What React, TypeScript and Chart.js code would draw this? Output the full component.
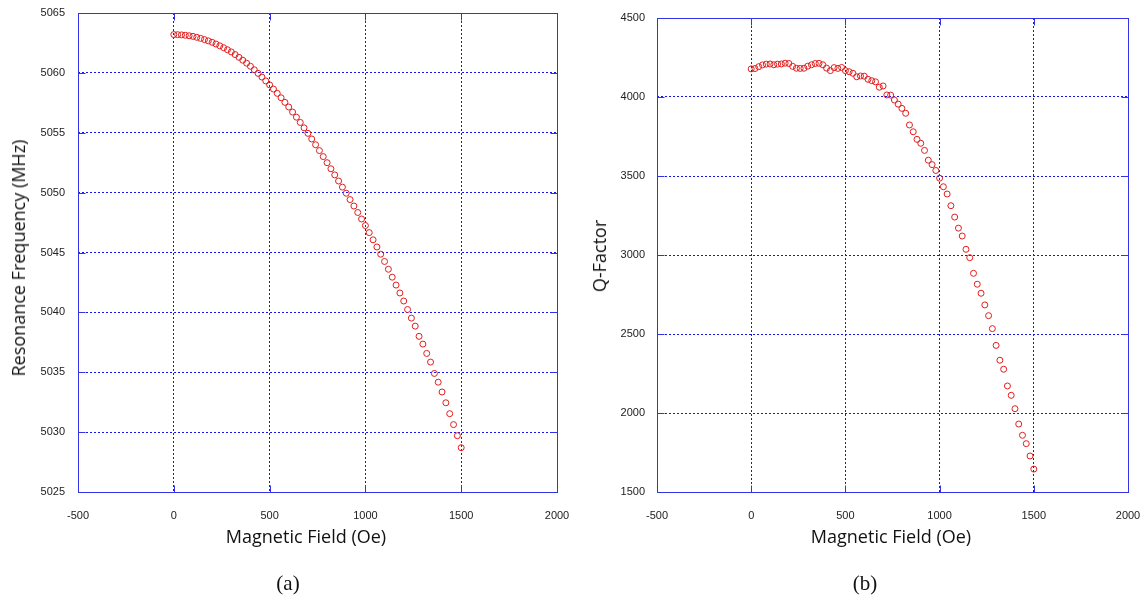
import React, { useEffect, useRef } from "react";
import { Chart, registerables } from "chart.js";

Chart.register(...registerables);

// ---- Data ----
const FIELD_OE = [
  0, 20, 40, 60, 80, 100, 120, 140, 160, 180, 200, 220, 240, 260, 280, 300, 320, 340, 360, 380,
  400, 420, 440, 460, 480, 500, 520, 540, 560, 580, 600, 620, 640, 660, 680, 700, 720, 740, 760, 780,
  800, 820, 840, 860, 880, 900, 920, 940, 960, 980, 1000, 1020, 1040, 1060, 1080, 1100, 1120, 1140, 1160, 1180,
  1200, 1220, 1240, 1260, 1280, 1300, 1320, 1340, 1360, 1380, 1400, 1420, 1440, 1460, 1480, 1500,
];

const RESONANCE_FREQ_MHZ = [
  5063.2, 5063.19, 5063.17, 5063.14, 5063.1, 5063.05, 5062.97, 5062.88, 5062.78, 5062.67,
  5062.55, 5062.41, 5062.26, 5062.1, 5061.93, 5061.75, 5061.53, 5061.3, 5061.06, 5060.81,
  5060.55, 5060.26, 5059.96, 5059.65, 5059.33, 5059.0, 5058.65, 5058.29, 5057.92, 5057.54,
  5057.15, 5056.73, 5056.3, 5055.86, 5055.41, 5054.95, 5054.48, 5054.0, 5053.51, 5053.01,
  5052.5, 5051.99, 5051.48, 5050.97, 5050.46, 5049.95, 5049.42, 5048.88, 5048.34, 5047.8,
  5047.25, 5046.66, 5046.06, 5045.46, 5044.86, 5044.25, 5043.6, 5042.94, 5042.28, 5041.62,
  5040.95, 5040.24, 5039.52, 5038.85, 5038.0, 5037.35, 5036.57, 5035.85, 5034.9, 5034.17,
  5033.35, 5032.45, 5031.54, 5030.63, 5029.7, 5028.7,
];

const Q_FACTOR = [
  4178, 4180, 4192, 4203, 4208, 4209, 4204, 4208, 4209, 4214,
  4212, 4194, 4182, 4181, 4182, 4195, 4204, 4212, 4213, 4204,
  4183, 4167, 4186, 4181, 4187, 4167, 4160, 4150, 4128, 4133,
  4132, 4112, 4103, 4096, 4062, 4070, 4013, 4012, 3981, 3955,
  3928, 3897, 3823, 3780, 3732, 3707, 3662, 3600, 3572, 3535,
  3486, 3432, 3386, 3312, 3240, 3170, 3120, 3036, 2983, 2884,
  2815, 2758, 2684, 2616, 2534, 2428, 2334, 2277, 2171, 2112,
  2027, 1930, 1859, 1806, 1728, 1645,
];

const FIELD_TICKS = [-500, 0, 500, 1000, 1500, 2000];
const FREQ_TICKS = [5025, 5030, 5035, 5040, 5045, 5050, 5055, 5060, 5065];
const Q_TICKS = [1500, 2000, 2500, 3000, 3500, 4000, 4500];

const X_TITLE = "Magnetic Field (Oe)";
const FREQ_TITLE = "Resonance Frequency (MHz)";
const Q_TITLE = "Q-Factor";

// ---- Styles ----
const AXIS_BLUE = "rgb(50,50,230)";
const GRID_BLUE = "rgb(20,20,245)";
const POINT_RED = "rgb(225,30,30)";
const TICK_COLOR = "#222";
const TICK_FONT = { family: "'Liberation Sans', Arial, sans-serif", size: 11 };
const TITLE_FONT = "'Open Sans', 'Noto Sans', sans-serif";

const framePlugin = {
  id: "frameBox",
  afterDraw(chart: any) {
    const { ctx, chartArea: a, scales } = chart;
    const l = Math.round(a.left) + 0.5;
    const r = Math.round(a.right) + 0.5;
    const t = Math.round(a.top) + 0.5;
    const b = Math.round(a.bottom) + 0.5;
    ctx.save();
    ctx.setLineDash([]);
    ctx.strokeStyle = AXIS_BLUE;
    ctx.lineWidth = 1;
    ctx.strokeRect(l, t, r - l, b - t);
    const len = 7;
    ctx.beginPath();
    for (const tk of scales.x.ticks) {
      const px = Math.round(scales.x.getPixelForValue(tk.value)) + 0.5;
      ctx.moveTo(px, b);
      ctx.lineTo(px, b - len);
      ctx.moveTo(px, t);
      ctx.lineTo(px, t + len);
    }
    for (const tk of scales.y.ticks) {
      const py = Math.round(scales.y.getPixelForValue(tk.value)) + 0.5;
      ctx.moveTo(l, py);
      ctx.lineTo(l + len, py);
      ctx.moveTo(r, py);
      ctx.lineTo(r - len, py);
    }
    ctx.stroke();
    ctx.restore();
  },
};

type PanelSpec = {
  values: number[];
  yTicks: number[];
  padLeft: number;
  padTop: number;
  padRight: number;
  yAxisWidth: number;
  yTickPad: number;
};

function makeConfig(p: PanelSpec): any {
  return {
    type: "scatter",
    data: {
      datasets: [
        {
          data: FIELD_OE.map((x, i) => ({ x, y: p.values[i] })),
          borderColor: POINT_RED,
          backgroundColor: "rgba(0,0,0,0)",
          pointRadius: 3,
          pointHoverRadius: 3,
          pointBorderWidth: 1,
          showLine: false,
        },
      ],
    },
    options: {
      animation: false,
      responsive: false,
      events: [],
      layout: { padding: { left: p.padLeft, top: p.padTop, right: p.padRight, bottom: 0 } },
      plugins: { legend: { display: false }, tooltip: { enabled: false } },
      scales: {
        x: {
          type: "linear",
          min: FIELD_TICKS[0],
          max: FIELD_TICKS[FIELD_TICKS.length - 1],
          afterBuildTicks: (s: any) => {
            s.ticks = FIELD_TICKS.map((value) => ({ value }));
          },
          afterFit: (s: any) => {
            s.height = 54;
            s.paddingLeft = 0;
            s.paddingRight = 0;
          },
          grid: { color: GRID_BLUE, lineWidth: 1, drawTicks: false },
          border: { display: false, dash: [2, 2] },
          ticks: {
            padding: 17,
            color: TICK_COLOR,
            font: TICK_FONT,
            maxRotation: 0,
            autoSkip: false,
            callback: (v: any) => String(v),
          },
        },
        y: {
          type: "linear",
          min: p.yTicks[0],
          max: p.yTicks[p.yTicks.length - 1],
          afterBuildTicks: (s: any) => {
            s.ticks = p.yTicks.map((value) => ({ value }));
          },
          afterFit: (s: any) => {
            s.width = p.yAxisWidth;
            s.paddingTop = 0;
            s.paddingBottom = 0;
          },
          grid: { color: GRID_BLUE, lineWidth: 1, drawTicks: false },
          border: { display: false, dash: [2, 2] },
          ticks: {
            padding: p.yTickPad,
            color: TICK_COLOR,
            font: TICK_FONT,
            autoSkip: false,
            callback: (v: any) => String(v),
          },
        },
      },
    },
    plugins: [framePlugin],
  };
}

function Panel({ spec, left }: { spec: PanelSpec; left: number }) {
  const ref = useRef<HTMLCanvasElement>(null);
  useEffect(() => {
    const chart = new Chart(ref.current as HTMLCanvasElement, makeConfig(spec));
    return () => chart.destroy();
  }, []);
  return (
    <canvas
      ref={ref}
      width={571}
      height={546}
      style={{ position: "absolute", left, top: 0, width: 571, height: 546 }}
    />
  );
}

const textBase: React.CSSProperties = {
  position: "absolute",
  whiteSpace: "nowrap",
  color: "#111",
  lineHeight: 1,
};

function HLabel({ text, x, y, size, font }: { text: string; x: number; y: number; size: number; font: string }) {
  return (
    <div style={{ ...textBase, left: x, top: y, fontSize: size, fontFamily: font, transform: "translate(-50%,-50%)" }}>
      {text}
    </div>
  );
}

function VLabel({ text, x, y, size }: { text: string; x: number; y: number; size: number }) {
  return (
    <div
      style={{
        ...textBase,
        left: x,
        top: y,
        fontSize: size,
        fontFamily: TITLE_FONT,
        transform: "translate(-50%,-50%) rotate(-90deg)",
      }}
    >
      {text}
    </div>
  );
}

export default function App() {
  useEffect(() => {
    document.body.style.margin = "0";
    document.body.style.background = "#fff";
  }, []);
  const left: PanelSpec = {
    values: RESONANCE_FREQ_MHZ,
    yTicks: FREQ_TICKS,
    padLeft: 8,
    padTop: 13,
    padRight: 14,
    yAxisWidth: 70,
    yTickPad: 13,
  };
  const right: PanelSpec = {
    values: Q_FACTOR,
    yTicks: Q_TICKS,
    padLeft: 17,
    padTop: 18,
    padRight: 14,
    yAxisWidth: 69,
    yTickPad: 12,
  };
  return (
    <div style={{ position: "absolute", left: 0, top: 0, width: 1142, height: 599, background: "#fff", overflow: "hidden" }}>
      <Panel spec={left} left={0} />
      <Panel spec={right} left={571} />
      <HLabel text={X_TITLE} x={306} y={536} size={18} font={TITLE_FONT} />
      <HLabel text={X_TITLE} x={891} y={536} size={18} font={TITLE_FONT} />
      <VLabel text={FREQ_TITLE} x={18} y={258} size={18} />
      <VLabel text={Q_TITLE} x={599} y={256} size={18} />
      <HLabel text="(a)" x={288} y={583} size={21} font="'Liberation Serif', 'DejaVu Serif', serif" />
      <HLabel text="(b)" x={865} y={583} size={21} font="'Liberation Serif', 'DejaVu Serif', serif" />
    </div>
  );
}
